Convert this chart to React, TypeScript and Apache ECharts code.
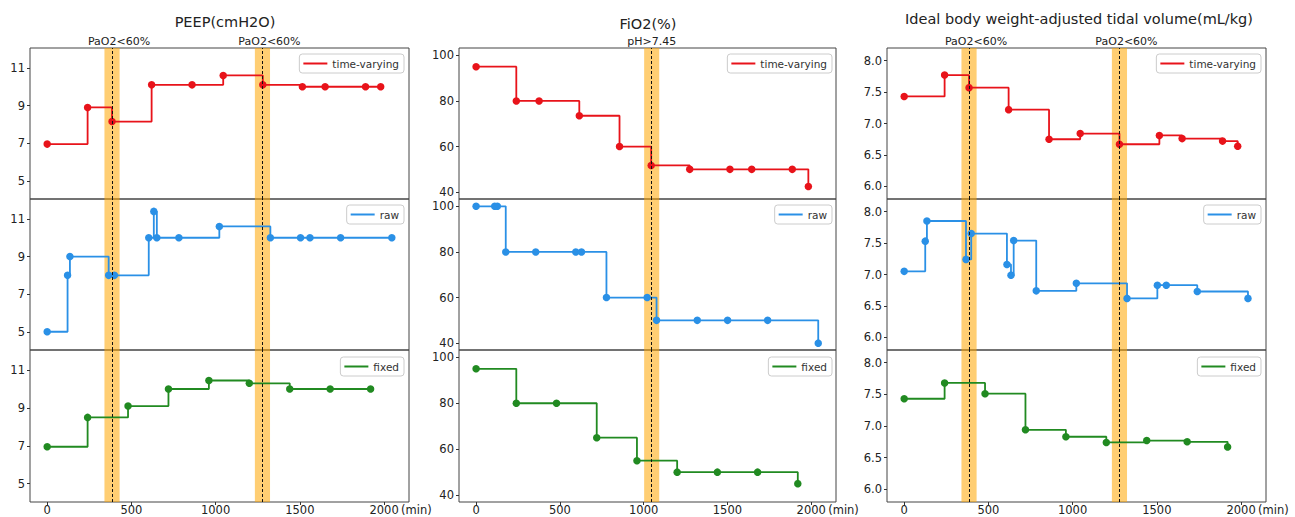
import React, { useEffect, useRef } from 'react';
import * as echarts from 'echarts';

// ---------- data ----------
const X_TICKS = [0, 500, 1000, 1500, 2000];
const X_MIN = -102;
const X_MAX = 2148;
const BAND_HALF = 45;

// PEEP (cmH2O)
const PEEP_TV_T = [0, 240, 385, 620, 860, 1045, 1280, 1515, 1650, 1890, 1980];
const PEEP_TV = [6.95, 8.9, 8.15, 10.1, 10.1, 10.6, 10.1, 10.0, 10.0, 10.0, 10.0];
const PEEP_RAW_T = [0, 121, 135, 365, 399, 603, 633, 651, 782, 1022, 1325, 1504, 1560, 1742, 2046];
const PEEP_RAW = [5, 8, 9, 8, 8, 10, 11.4, 10, 10, 10.6, 10, 10, 10, 10, 10];
const PEEP_FIX_T = [0, 240, 480, 720, 960, 1200, 1440, 1680, 1920];
const PEEP_FIX = [6.95, 8.5, 9.1, 10, 10.45, 10.3, 10, 10, 10];
const PEEP_Y_TICKS = [5, 7, 9, 11];
const PEEP_EVENTS_X = [385, 1278];
const PEEP_EVENTS_LABEL = ['PaO2<60%', 'PaO2<60%'];

// FiO2 (%)
const FIO2_TV_T = [0, 240, 376, 616, 856, 1045, 1275, 1515, 1645, 1887, 1983];
const FIO2_TV = [95, 80, 80, 73.5, 60, 51.7, 50, 50, 50, 50, 42.5];
const FIO2_RAW_T = [0, 111, 127, 177, 356, 595, 629, 778, 1021, 1077, 1320, 1501, 1740, 2042];
const FIO2_RAW = [100, 100, 100, 80, 80, 80, 80, 60, 60, 50, 50, 50, 50, 40];
const FIO2_FIX_T = [0, 240, 480, 720, 960, 1200, 1440, 1680, 1920];
const FIO2_FIX = [95, 80, 80, 65, 55, 50, 50, 50, 45];
const FIO2_Y_TICKS = [40, 60, 80, 100];
const FIO2_EVENTS_X = [1048];
const FIO2_EVENTS_LABEL = ['pH>7.45'];

// Ideal body weight-adjusted tidal volume (mL/kg)
const VT_TV_T = [0, 240, 385, 620, 860, 1045, 1278, 1515, 1650, 1890, 1980];
const VT_TV = [7.43, 7.77, 7.57, 7.22, 6.75, 6.84, 6.67, 6.81, 6.76, 6.72, 6.64];
const VT_RAW_T = [0, 125, 135, 367, 398, 610, 634, 650, 784, 1022, 1323, 1503, 1556, 1740, 2041];
const VT_RAW = [7.05, 7.53, 7.85, 7.24, 7.65, 7.16, 6.99, 7.54, 6.74, 6.86, 6.62, 6.83, 6.83, 6.73, 6.62];
const VT_FIX_T = [0, 240, 480, 720, 960, 1200, 1440, 1680, 1920];
const VT_FIX = [7.43, 7.68, 7.51, 6.94, 6.83, 6.74, 6.77, 6.75, 6.67];
const VT_Y_TICKS = [6.0, 6.5, 7.0, 7.5, 8.0];
const VT_EVENTS_X = [385, 1278];
const VT_EVENTS_LABEL = ['PaO2<60%', 'PaO2<60%'];

const SERIES_NAMES = ['time-varying', 'raw', 'fixed'];
const SERIES_COLORS = ['#e8131a', '#2a90e6', '#218a21'];

// ---------- layout ----------
const FONT = "'DejaVu Sans', 'Noto Sans', sans-serif";
const COL_LAYOUT = [
  { left: 30, width: 379, titleX: 225, titleY: 22, legendRight: 891, eventDx: 7 },
  { left: 459, width: 377, titleX: 648, titleY: 24, legendRight: 463, eventDx: 0 },
  { left: 887, width: 379, titleX: 1079, titleY: 19, legendRight: 34, eventDx: 7 },
];
const ROW_LAYOUT = [
  { top: 48, height: 151, legendTop: 54 },
  { top: 199, height: 151, legendTop: 205 },
  { top: 350, height: 152, legendTop: 357 },
];

const COLUMNS = [
  {
    title: 'PEEP(cmH2O)',
    yMin: 4.03, yMax: 12.06, yTicks: PEEP_Y_TICKS, decimals: 0,
    eventsX: PEEP_EVENTS_X, eventsLabel: PEEP_EVENTS_LABEL,
    rows: [[PEEP_TV_T, PEEP_TV], [PEEP_RAW_T, PEEP_RAW], [PEEP_FIX_T, PEEP_FIX]],
  },
  {
    title: 'FiO2(%)',
    yMin: 37, yMax: 103.2, yTicks: FIO2_Y_TICKS, decimals: 0,
    eventsX: FIO2_EVENTS_X, eventsLabel: FIO2_EVENTS_LABEL,
    rows: [[FIO2_TV_T, FIO2_TV], [FIO2_RAW_T, FIO2_RAW], [FIO2_FIX_T, FIO2_FIX]],
  },
  {
    title: 'Ideal body weight-adjusted tidal volume(mL/kg)',
    yMin: 5.8, yMax: 8.2, yTicks: VT_Y_TICKS, decimals: 1,
    eventsX: VT_EVENTS_X, eventsLabel: VT_EVENTS_LABEL,
    rows: [[VT_TV_T, VT_TV], [VT_RAW_T, VT_RAW], [VT_FIX_T, VT_FIX]],
  },
];

function buildOption() {
  const grid: any[] = [];
  const xAxis: any[] = [];
  const yAxis: any[] = [];
  const series: any[] = [];
  const legend: any[] = [];
  const graphic: any[] = [];

  COLUMNS.forEach((col, c) => {
    const cl = COL_LAYOUT[c];
    graphic.push({
      type: 'text',
      x: cl.titleX,
      y: cl.titleY,
      style: {
        text: col.title,
        font: `14.5px ${FONT}`,
        fill: '#222',
        textAlign: 'center',
        textVerticalAlign: 'middle',
      },
    });
    // "(min)" unit after the 2000 tick
    const x2000 = cl.left + ((2000 - X_MIN) / (X_MAX - X_MIN)) * cl.width;
    graphic.push({
      type: 'text',
      x: x2000 + 17,
      y: 509.5,
      style: {
        text: '(min)',
        font: `11.5px ${FONT}`,
        fill: '#222',
        textAlign: 'left',
        textVerticalAlign: 'middle',
      },
    });

    col.rows.forEach((rowData, r) => {
      const rl = ROW_LAYOUT[r];
      const idx = c * 3 + r;
      const isBottom = r === 2;
      const isTop = r === 0;
      grid.push({
        left: cl.left,
        top: rl.top,
        width: cl.width,
        height: rl.height,
        show: true,
        borderColor: '#444',
        borderWidth: 1,
        backgroundColor: 'transparent',
        containLabel: false,
        outerBoundsMode: 'none',
      });
      xAxis.push({
        type: 'value',
        gridIndex: idx,
        position: 'bottom',
        min: X_MIN,
        max: X_MAX,
        axisLine: { show: false, onZero: false },
        splitLine: { show: false },
        axisTick: {
          show: isBottom,
          length: 3,
          lineStyle: { color: '#333' },
          customValues: X_TICKS,
        },
        axisLabel: {
          show: isBottom,
          customValues: X_TICKS,
          fontSize: 11.5,
          color: '#222',
          margin: 2,
          fontFamily: FONT,
          formatter: (v: number) => String(v),
        },
      });
      yAxis.push({
        type: 'value',
        gridIndex: idx,
        position: 'left',
        min: col.yMin,
        max: col.yMax,
        axisLine: { show: false, onZero: false },
        splitLine: { show: false },
        axisTick: {
          show: true,
          length: 3,
          lineStyle: { color: '#333' },
          customValues: col.yTicks,
        },
        axisLabel: {
          customValues: col.yTicks,
          fontSize: 11.5,
          color: '#222',
          margin: 5,
          fontFamily: FONT,
          formatter: (v: number) => v.toFixed(col.decimals),
        },
      });
      const [ts, vs] = rowData as number[][];
      series.push({
        name: SERIES_NAMES[r],
        type: 'line',
        step: 'end',
        xAxisIndex: idx,
        yAxisIndex: idx,
        data: ts.map((t, j) => [t, vs[j]]),
        symbol: 'circle',
        symbolSize: 7.5,
        showSymbol: true,
        color: SERIES_COLORS[r],
        lineStyle: { width: 1.8, color: SERIES_COLORS[r] },
        itemStyle: { color: SERIES_COLORS[r] },
        z: 3,
        markArea: {
          silent: true,
          itemStyle: { color: 'rgba(255,165,0,0.55)' },
          data: col.eventsX.map((x) => [{ xAxis: x - BAND_HALF }, { xAxis: x + BAND_HALF }]),
        },
        markLine: {
          silent: true,
          symbol: ['none', 'none'],
          animation: false,
          lineStyle: { type: [3, 2], color: '#111', width: 1 },
          label: { show: false },
          data: col.eventsX.map((x, k) => ({
            xAxis: x,
            label: isTop
              ? {
                  show: true,
                  position: 'end',
                  formatter: col.eventsLabel[k],
                  fontSize: 11,
                  color: '#222',
                  distance: 1,
                  offset: [cl.eventDx, 0],
                  fontFamily: FONT,
                }
              : { show: false },
          })),
        },
      });
      legend.push({
        data: [SERIES_NAMES[r]],
        right: cl.legendRight,
        top: rl.legendTop,
        orient: 'horizontal',
        selectedMode: false,
        icon: 'rect',
        itemWidth: 24,
        itemHeight: 2,
        itemGap: 6,
        padding: [4, 5, 4, 4],
        backgroundColor: 'rgba(255,255,255,0.85)',
        borderColor: '#cccccc',
        borderWidth: 1,
        borderRadius: 3,
        textStyle: { fontSize: 10.5, color: '#333', fontFamily: FONT },
      });
    });
  });

  return {
    animation: false,
    backgroundColor: '#ffffff',
    textStyle: { fontFamily: FONT },
    grid,
    xAxis,
    yAxis,
    series,
    legend,
    graphic,
  };
}

export default function App() {
  const ref = useRef<HTMLDivElement>(null);
  useEffect(() => {
    if (!ref.current) return;
    const chart = echarts.init(ref.current, null, { renderer: 'svg' });
    chart.setOption(buildOption() as any);
    return () => {
      chart.dispose();
    };
  }, []);
  return (
    <div
      ref={ref}
      style={{ position: 'fixed', left: 0, top: 0, width: 1295, height: 517, background: '#fff' }}
    />
  );
}
